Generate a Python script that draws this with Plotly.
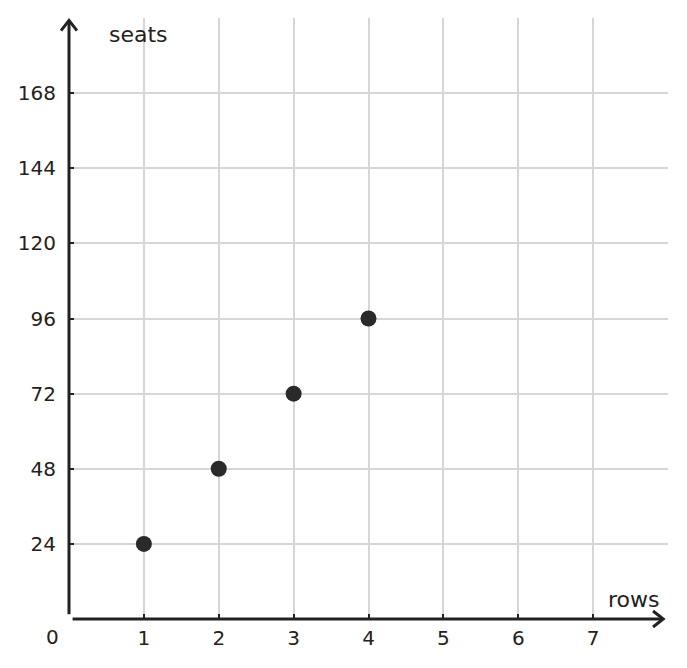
import plotly.graph_objects as go

rows = [1, 2, 3, 4]
seats = [24, 48, 72, 96]

x_ticks = [0, 1, 2, 3, 4, 5, 6, 7]
x_ticktext = ["", "1", "2", "3", "4", "5", "6", "7"]
y_ticks = [0, 24, 48, 72, 96, 120, 144, 168]
y_ticktext = ["", "24", "48", "72", "96", "120", "144", "168"]

ink = "#222222"
grid = "#d6d6d6"
font = "DejaVu Sans"

fig = go.Figure()
fig.add_trace(go.Scatter(x=rows, y=seats, mode="markers",
                         marker=dict(size=16, color="#2a2a2a"),
                         cliponaxis=False, showlegend=False))

# the page body adds an 8px margin, so the figure is shrunk to fit
fig.update_layout(
    width=671, height=652,
    margin=dict(l=58, r=11, t=10, b=40),
    plot_bgcolor="white", paper_bgcolor="white",
    font=dict(family=font, size=20, color=ink),
)
fig.update_xaxes(range=[0, 8], tickvals=x_ticks, ticktext=x_ticktext,
                 showgrid=True, gridcolor=grid, gridwidth=2,
                 zeroline=False, showline=False,
                 ticks="inside", ticklen=5, tickwidth=2, tickcolor=ink,
                 ticklabelstandoff=5)
fig.update_yaxes(range=[0, 192], tickvals=y_ticks, ticktext=y_ticktext,
                 showgrid=True, gridcolor=grid, gridwidth=2,
                 zeroline=False, showline=False,
                 ticks="inside", ticklen=5, tickwidth=2, tickcolor=ink,
                 ticklabelstandoff=12)

# axis lines with open arrow heads (paper coords)
line = dict(color=ink, width=3)
fig.add_shape(type="line", xref="paper", yref="paper",
              x0=0, y0=0.008, x1=0, y1=0.995, line=line)
fig.add_shape(type="path", xref="paper", yref="paper",
              path="M -0.0133,0.979 L 0,0.996 L 0.0133,0.979", line=line)
fig.add_shape(type="line", xref="paper", yref="paper",
              x0=0.006, y0=0, x1=0.991, y1=0, line=line)
fig.add_shape(type="path", xref="paper", yref="paper",
              path="M 0.975,0.0133 L 0.992,0 L 0.975,-0.0133", line=line)

fig.add_annotation(text="seats", xref="paper", yref="paper",
                   x=0.064, y=0.973, xanchor="left", yanchor="middle",
                   showarrow=False, font=dict(size=22, color=ink))
fig.add_annotation(text="rows", xref="paper", yref="paper",
                   x=0.988, y=0.033, xanchor="right", yanchor="middle",
                   showarrow=False, font=dict(size=22, color=ink))
fig.add_annotation(text="0", xref="paper", yref="paper",
                   x=-0.028, y=-0.03, xanchor="center", yanchor="middle",
                   showarrow=False, font=dict(size=20, color=ink))

fig.write_html("out.html")
